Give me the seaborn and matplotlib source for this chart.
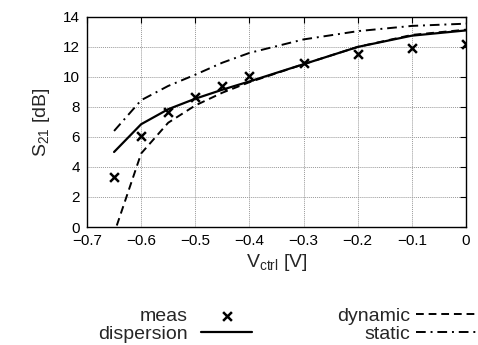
import matplotlib
matplotlib.use('Agg')
import matplotlib.pyplot as plt
import seaborn as sns
import pandas as pd

# data
meas_v = [-0.65, -0.6, -0.55, -0.5, -0.45, -0.4, -0.3, -0.2, -0.1, 0.0]
meas_s21 = [3.3, 6.05, 7.65, 8.65, 9.4, 10.05, 10.95, 11.55, 11.95, 12.2]

disp_v = [-0.65, -0.6, -0.55, -0.5, -0.45, -0.4, -0.3, -0.2, -0.1, 0.0]
disp_s21 = [5.0, 6.85, 7.85, 8.55, 9.15, 9.7, 10.85, 12.0, 12.75, 13.1]

dyn_v = [-0.645, -0.6, -0.55, -0.5, -0.45, -0.4, -0.3, -0.2, -0.1, 0.0]
dyn_s21 = [0.1, 4.9, 6.95, 8.1, 8.95, 9.65, 10.85, 12.0, 12.8, 13.15]

stat_v = [-0.65, -0.6, -0.55, -0.5, -0.45, -0.4, -0.3, -0.2, -0.1, 0.0]
stat_s21 = [6.4, 8.45, 9.4, 10.15, 10.95, 11.6, 12.5, 13.05, 13.4, 13.55]

xticks = [-0.7, -0.6, -0.5, -0.4, -0.3, -0.2, -0.1, 0.0]
xticklabels = ['\u22120.7', '\u22120.6', '\u22120.5', '\u22120.4',
               '\u22120.3', '\u22120.2', '\u22120.1', '0']
yticks = [0, 2, 4, 6, 8, 10, 12, 14]

sns.set_style('white')
plt.rcParams['font.family'] = ['Liberation Sans', 'DejaVu Sans']
plt.rcParams['mathtext.default'] = 'regular'
plt.rcParams['font.size'] = 10

fig = plt.figure(figsize=(4.78, 3.45), dpi=100)
ax = fig.add_axes([0.182, 0.342, 0.793, 0.609])

meas = pd.DataFrame({'v': meas_v, 's21': meas_s21})
disp = pd.DataFrame({'v': disp_v, 's21': disp_s21})
dyn = pd.DataFrame({'v': dyn_v, 's21': dyn_s21})
stat = pd.DataFrame({'v': stat_v, 's21': stat_s21})

sns.scatterplot(data=meas, x='v', y='s21', marker='x', color='black', s=40,
                linewidth=1.8, ax=ax, label='meas', zorder=5)
sns.lineplot(data=disp, x='v', y='s21', color='black', lw=1.6, ax=ax,
             label='dispersion')
sns.lineplot(data=dyn, x='v', y='s21', color='black', lw=1.4, ls=(0, (4, 2.5)),
             ax=ax, label='dynamic')
sns.lineplot(data=stat, x='v', y='s21', color='black', lw=1.4,
             ls=(0, (5, 2.5, 1, 2.5)), ax=ax, label='static')

ax.set_xlim(-0.7, 0)
ax.set_ylim(0, 14)
ax.set_xticks(xticks)
ax.set_xticklabels(xticklabels)
ax.set_yticks(yticks)
ax.grid(True, color='#999999', ls=(0, (1, 1)), lw=0.7)
for sp in ax.spines.values():
    sp.set_color('black')
    sp.set_linewidth(1.0)
ax.tick_params(direction='in', length=4, top=True, right=True, labelsize=11,
               colors='black', pad=5)
ax.set_xlabel('V$_{ctrl}$ [V]', fontsize=14, labelpad=3)
ax.set_ylabel('S$_{21}$ [dB]', fontsize=14, labelpad=8)

ax.get_legend().remove()
h, l = ax.get_legend_handles_labels()

# two key blocks, gnuplot style: text right-aligned, sample on the right
fig.legend(h[:2], l[:2], markerfirst=False, frameon=False, fontsize=14,
           loc='upper right', bbox_to_anchor=(0.527, 0.110),
           handlelength=2.6, handletextpad=0.7, labelspacing=0.05,
           borderpad=0, borderaxespad=0)
fig.legend(h[2:], l[2:], markerfirst=False, frameon=False, fontsize=14,
           loc='upper right', bbox_to_anchor=(1.005, 0.110),
           handlelength=3.3, handletextpad=0.3, labelspacing=0.05,
           borderpad=0, borderaxespad=0)

fig.savefig('out.png', dpi=100)
